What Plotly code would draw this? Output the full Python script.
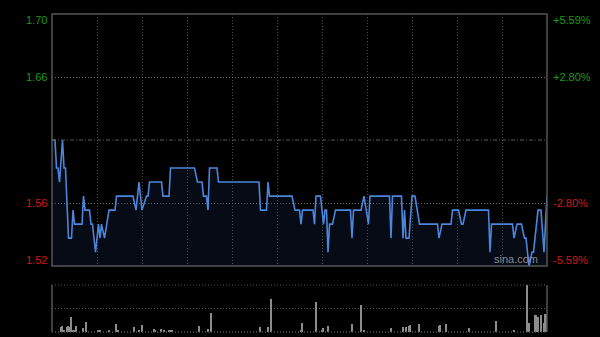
import plotly.graph_objects as go

# ---- data (minutes after 9:30, HK session 330 minutes) ----
prev_close = 1.61
price_minutes = [0, 2, 3, 4, 5, 7, 8, 9, 11, 13, 14, 15, 20, 21, 22, 25, 26, 27, 29, 31, 32, 33, 35, 38, 42, 43,
                 54, 56, 58, 60, 63, 64, 65, 73, 74, 78, 79, 95, 97, 100, 101, 103, 104, 105, 110, 111, 138, 139,
                 143, 144, 145, 160, 162, 165, 166, 167, 174, 175, 176, 179, 180, 181, 182, 183, 184, 185, 187,
                 189, 199, 200, 201, 206, 208, 211, 212, 225, 226, 227, 233, 234, 235, 236, 238, 240, 242, 245,
                 257, 258, 260, 266, 267, 271, 273, 274, 276, 291, 292, 293, 307, 308, 310, 313, 315, 316, 318,
                 320, 321, 324, 326, 328, 330]
price_values = [1.61, 1.61, 1.59, 1.59, 1.58, 1.61, 1.59, 1.59, 1.54, 1.54, 1.56, 1.55, 1.55, 1.57, 1.56, 1.56,
                1.55, 1.55, 1.53, 1.55, 1.54, 1.55, 1.54, 1.56, 1.56, 1.57, 1.57, 1.56, 1.58, 1.56, 1.57, 1.57,
                1.58, 1.58, 1.57, 1.57, 1.59, 1.59, 1.58, 1.58, 1.57, 1.57, 1.56, 1.59, 1.59, 1.58, 1.58, 1.56,
                1.56, 1.58, 1.57, 1.57, 1.56, 1.56, 1.55, 1.56, 1.56, 1.55, 1.57, 1.57, 1.56, 1.55, 1.56, 1.56,
                1.53, 1.55, 1.55, 1.56, 1.56, 1.54, 1.56, 1.56, 1.57, 1.55, 1.57, 1.57, 1.54, 1.57, 1.57, 1.54,
                1.56, 1.54, 1.54, 1.57, 1.57, 1.55, 1.55, 1.54, 1.55, 1.55, 1.56, 1.56, 1.55, 1.55, 1.56, 1.56,
                1.53, 1.55, 1.55, 1.54, 1.55, 1.55, 1.54, 1.54, 1.52, 1.53, 1.53, 1.56, 1.56, 1.53, 1.57]

vol_minutes = [6, 7, 8, 10, 11, 12, 13, 14, 15, 16, 21, 23, 31, 32, 38, 43, 44, 55, 58, 60, 68, 69, 73, 75, 78,
               79, 80, 98, 104, 106, 139, 144, 146, 166, 167, 176, 180, 181, 184, 200, 206, 208, 226, 234, 236,
               238, 239, 245, 258, 259, 263, 278, 296, 308, 317, 318, 322, 323, 324, 326, 328, 329, 330]
vol_values = [11, 12, 5, 11, 12, 11, 31, 5, 5, 13, 9, 21, 5, 3, 3, 16, 5, 11, 3, 14, 7, 3, 7, 3, 3,
              5, 5, 13, 7, 41, 11, 11, 70, 4, 19, 63, 5, 9, 12, 16, 57, 4, 9, 11, 11,
              13, 14, 16, 12, 14, 16, 9, 23, 3, 120, 19, 36, 36, 31, 36, 19, 38, 38]

y_ticks = [1.70, 1.655, 1.565, 1.52]
y_left_text = ["1.70", "1.66", "1.56", "1.52"]
y_right_text = ["+5.59%", "+2.80%", "-2.80%", "-5.59%"]
y_label_colors = ["#1a9a1a", "#1a9a1a", "#d01818", "#d01818"]
y_label_shift = [-6, 0, 0, 6]
x_grid = [30, 60, 90, 120, 150, 180, 210, 240, 270, 300]

fig = go.Figure()

fig.add_trace(go.Scatter(
    x=price_minutes, y=price_values, mode="lines",
    line=dict(color="#4a86dc", width=1.6),
    fill="tozeroy", fillcolor="rgba(40,70,130,0.16)",
    xaxis="x", yaxis="y", hoverinfo="skip", showlegend=False))

fig.add_trace(go.Bar(
    x=vol_minutes, y=vol_values, width=0.7,
    marker=dict(color="#8c8c8c", line=dict(width=0)),
    xaxis="x2", yaxis="y2", hoverinfo="skip", showlegend=False))

fine_dot = "1px,2px"
fig.update_layout(
    width=600, height=337,
    margin=dict(l=51.5, r=52.5, t=13.5, b=5),
    paper_bgcolor="#000000", plot_bgcolor="#000000",
    font=dict(family="Liberation Sans, Arial", size=11),
    bargap=0,
    xaxis=dict(domain=[0, 1], range=[0, 330], anchor="y", tickvals=x_grid, showticklabels=False,
               showgrid=True, gridcolor="#4a4a4a", griddash=fine_dot, gridwidth=1, zeroline=False,
               showline=False, ticks=""),
    yaxis=dict(domain=[0.2072, 1], range=[1.52, 1.70], tickvals=[1.565, 1.655], showticklabels=False,
               showgrid=True, gridcolor="#6a6a6a", griddash=fine_dot, zeroline=False, showline=False, ticks=""),
    xaxis2=dict(domain=[0, 1], range=[0, 330], anchor="y2", showticklabels=False, showgrid=False,
                zeroline=False, showline=False, ticks=""),
    yaxis2=dict(domain=[0, 0.1476], range=[0, 100], tickvals=[50], showticklabels=False,
                showgrid=True, gridcolor="#5a5a5a", griddash=fine_dot, zeroline=False, showline=False, ticks=""),
)

# previous close line
fig.add_shape(type="line", xref="x domain", yref="y", x0=0, x1=1, y0=prev_close, y1=prev_close,
              line=dict(color="#5a5a5a", width=1, dash="4px,2px,1px,2px"))
# panel borders
fig.add_shape(type="rect", xref="x domain", yref="y domain", x0=0, x1=1, y0=0, y1=1,
              line=dict(color="#555555", width=1.5))
fig.add_shape(type="line", xref="x2 domain", yref="y2 domain", x0=0, x1=0, y0=0, y1=1,
              line=dict(color="#555555", width=1.5))
fig.add_shape(type="line", xref="x2 domain", yref="y2 domain", x0=1, x1=1, y0=0, y1=1,
              line=dict(color="#555555", width=1.5))
fig.add_shape(type="line", xref="x2 domain", yref="y2 domain", x0=0, x1=1, y0=0, y1=0,
              line=dict(color="#555555", width=1.5, dash=fine_dot))
fig.add_shape(type="line", xref="x2 domain", yref="y2 domain", x0=0, x1=1, y0=1, y1=1,
              line=dict(color="#5a5a5a", width=1, dash=fine_dot))

for v, lt, rt, c, s in zip(y_ticks, y_left_text, y_right_text, y_label_colors, y_label_shift):
    fig.add_annotation(xref="paper", yref="y", x=0, y=v, text=lt, showarrow=False,
                       xanchor="right", yanchor="middle", xshift=-3, yshift=s,
                       font=dict(color=c, size=11))
    fig.add_annotation(xref="paper", yref="y", x=1, y=v, text=rt, showarrow=False,
                       xanchor="left", yanchor="middle", xshift=4, yshift=s,
                       font=dict(color=c, size=11))

fig.add_annotation(xref="paper", yref="y", x=0.985, y=1.52, text="sina.com", showarrow=False,
                   xanchor="right", yanchor="bottom", yshift=-1,
                   font=dict(color="#8a8a8a", size=11))

fig.write_html("out.html")
